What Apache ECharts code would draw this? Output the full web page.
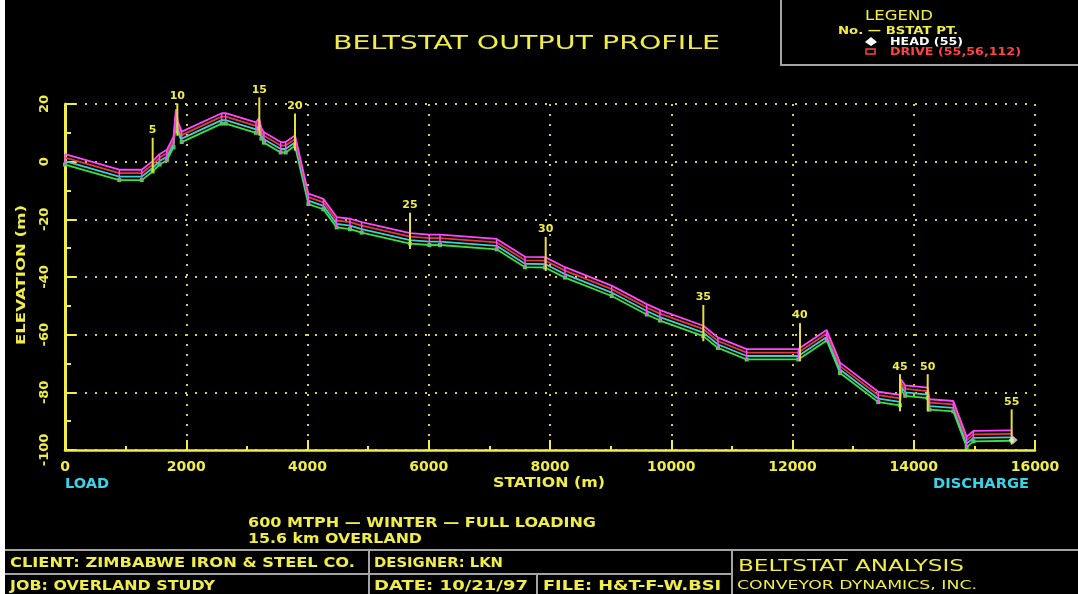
<!DOCTYPE html>
<html>
<head>
<meta charset="utf-8">
<title>Beltstat output profile</title>
<script src="https://cdn.jsdelivr.net/npm/echarts@6/dist/echarts.min.js"></script>
<style>
html, body { margin: 0; padding: 0; background: #000; }
#chart { width: 1078px; height: 594px; }
</style>
</head>
<body>
<div id="chart"></div>
<script>
// station (m) / elevation (m) of the lowest (green) belt line
const stations = [0, 896, 1265, 1446, 1560, 1680, 1790, 1830, 1860, 1925, 2584, 2650, 3150, 3200, 3240, 3282, 3558, 3640, 3794,
  4014, 4261, 4481, 4701, 4894, 5691, 6010, 6186, 7120, 7588, 7918, 8247, 9017, 9595, 9814, 10529, 10771, 11244, 12096,
  12564, 12784, 13415, 13773, 13790, 13860, 14230, 14260, 14653, 14873, 14983, 15615];
const elevations = [-1.0, -6.4, -6.4, -3.4, -1.0, 0.5, 5.0, 14.5, 10.5, 6.8, 13.2, 13.2, 10.0, 11.5, 8.0, 6.6, 3.2, 3.2, 5.5,
  -14.7, -16.5, -22.8, -23.4, -24.6, -28.4, -28.9, -28.9, -30.4, -36.6, -36.7, -40.2, -46.6, -53.0, -55.1, -60.5, -64.6, -68.6, -68.6,
  -62.0, -73.3, -83.4, -84.5, -79.2, -81.2, -82.0, -86.0, -86.6, -99.0, -97.0, -96.8];

// the four belt lines sit this far (m) above the green one
const lineNames = ['green', 'cyan', 'red', 'magenta'];
const lineColors = ['#3ce23c', '#3ccfd6', '#e83a3a', '#ff48ff'];
const lineOffsets = [0, 1.2, 2.4, 3.6];

// BSTAT points: label, station, top and bottom of the marker line
const statLabels = ['5', '10', '15', '20', '25', '30', '35', '40', '45', '50', '55'];
const statStations = [1446, 1853, 3205, 3794, 5691, 7929, 10529, 12124, 13773, 14230, 15615];
const statTops = [8.3, 20.2, 22.3, 16.7, -17.7, -26.1, -49.7, -56.0, -73.7, -73.7, -85.9];
const statBottoms = [-3.8, 9.0, 9.0, 3.8, -30.3, -37.9, -62.3, -69.2, -86.6, -86.6, -98.1];

const headPoint = [15640, -96.5];

const xMin = 0, xMax = 16000, xStep = 2000;
const yMin = -100, yMax = 20, yStep = 20;

const YEL = '#f0ec48';
const GRAY = '#a4a4a4';
const CYAN = '#38d4ea';

let chart = echarts.init(document.getElementById('chart'));

// text stretched to the width it has on the drawing
const measureCtx = document.createElement('canvas').getContext('2d');
function txt(text, x, y, w, size, color, weight, rot, align) {
  const font = (weight || 'bold') + ' ' + size + 'px "DejaVu Sans"';
  measureCtx.font = font;
  const sx = w / measureCtx.measureText(text).width;
  return {
    type: 'text', x: x, y: y, scaleX: sx, rotation: rot || 0, z: 20, silent: true,
    style: { text: text, fill: color, font: font, align: align || 'left', verticalAlign: 'middle' }
  };
}
function seg(x1, y1, x2, y2, color, w) {
  return { type: 'line', z: 15, silent: true, shape: { x1: x1, y1: y1, x2: x2, y2: y2 }, style: { stroke: color || GRAY, lineWidth: w || 2 } };
}

let beltSeries = lineNames.map((name, k) => ({
  name: name,
  type: 'line',
  data: stations.map((s, i) => [s, elevations[i] + lineOffsets[k]]),
  // the green line carries small blobs at the break points
  showSymbol: k === 0,
  symbol: k === 0 ? 'rect' : 'none',
  symbolSize: [4, 4],
  itemStyle: { color: lineColors[k] },
  animation: false,
  lineStyle: { color: lineColors[k], width: 1.8 },
  z: 3 + k
}));

let option = {
  backgroundColor: '#000',
  animation: false,
  grid: { left: 65, right: 43, top: 104, bottom: 144 },
  xAxis: {
    type: 'value', min: xMin, max: xMax, interval: xStep,
    axisLine: { onZero: false, lineStyle: { color: YEL, width: 2.5 } },
    axisTick: { inside: true, length: 10, lineStyle: { color: YEL, width: 2 } },
    minorTick: { show: true, splitNumber: 2, length: 4, lineStyle: { color: YEL, width: 2 } },
    axisLabel: { color: YEL, fontFamily: 'DejaVu Sans', fontWeight: 'bold', fontSize: 14, margin: 10, formatter: v => String(v) },
    splitLine: { show: true, lineStyle: { color: '#d6d040', type: [2, 8], width: 2 } }
  },
  yAxis: {
    type: 'value', min: yMin, max: yMax, interval: yStep,
    axisLine: { onZero: false, lineStyle: { color: YEL, width: 3 } },
    axisTick: { inside: true, length: 11, lineStyle: { color: YEL, width: 2 } },
    minorTick: { show: true, splitNumber: 2, length: 6, lineStyle: { color: YEL, width: 2 } },
    axisLabel: { color: YEL, fontFamily: 'DejaVu Sans', fontWeight: 'bold', fontSize: 13, rotate: 90, margin: 14 },
    splitLine: { show: true, lineStyle: { color: '#d6d040', type: [2, 8], width: 2 } }
  },
  series: beltSeries.concat([
    {
      // short magenta marks at each profile break
      type: 'custom',
      data: stations.map((s, i) => [s, elevations[i]]),
      z: 8,
      renderItem: function (params, api) {
        const p0 = api.coord([api.value(0), api.value(1) - 0.3]);
        const p1 = api.coord([api.value(0), api.value(1) + lineOffsets[3]]);
        return { type: 'line', shape: { x1: p0[0], y1: p0[1], x2: p1[0], y2: p1[1] }, style: { stroke: '#ff48ff', lineWidth: 1.5 } };
      }
    },
    {
      type: 'custom',
      data: statStations.map((s, i) => [s, statTops[i], statBottoms[i], statLabels[i]]),
      z: 9,
      renderItem: function (params, api) {
        const top = api.coord([api.value(0), api.value(1)]);
        const bot = api.coord([api.value(0), api.value(2)]);
        return {
          type: 'group',
          children: [
            { type: 'line', shape: { x1: top[0], y1: top[1], x2: bot[0], y2: bot[1] }, style: { stroke: '#e6dc3c', lineWidth: 2 } },
            { type: 'text', x: top[0], y: top[1] - 2, style: { text: statLabels[params.dataIndex], fill: YEL, font: 'bold 11px "DejaVu Sans"', align: 'center', verticalAlign: 'bottom' } }
          ]
        };
      }
    },
    {
      type: 'scatter',
      data: [headPoint],
      symbol: 'diamond',
      symbolSize: [9, 8],
      itemStyle: { color: '#e8e8e8' },
      z: 10
    }
  ]),
  graphic: [
    { type: 'rect', shape: { x: 0, y: 0, width: 5, height: 594 }, style: { fill: '#fff' }, z: 30 },
    { type: 'rect', shape: { x: 781, y: -3, width: 300, height: 68 }, style: { fill: 'transparent', stroke: GRAY, lineWidth: 2 }, z: 15 },
    seg(5, 550, 1078, 550),
    seg(5, 574, 732, 574),
    seg(369, 550, 369, 594),
    seg(537, 574, 537, 594),
    seg(732, 550, 732, 594),
    txt('BELTSTAT OUTPUT PROFILE', 333, 44, 387, 20, YEL, 'normal'),
    txt('LEGEND', 865, 16, 68, 14, YEL, 'normal'),
    txt('No. \u2014 BSTAT PT.', 838, 31, 120, 10, YEL),
    { type: 'polygon', z: 20, shape: { points: [[871, 37], [877, 42], [871, 46], [865, 42]] }, style: { fill: '#fff' } },
    { type: 'rect', z: 20, shape: { x: 866, y: 49, width: 9, height: 5 }, style: { fill: 'transparent', stroke: '#ff4040', lineWidth: 1.5 } },
    txt('HEAD (55)', 890, 42, 73, 11, '#fff'),
    txt('DRIVE (55,56,112)', 890, 52, 131, 11, '#ff4444'),
    txt('ELEVATION (m)', 22, 275, 140, 13, YEL, 'bold', Math.PI / 2, 'center'),
    txt('STATION (m)', 493, 483, 112, 14, YEL),
    txt('LOAD', 65, 484, 44, 14, CYAN),
    txt('DISCHARGE', 933, 484, 96, 14, CYAN),
    txt('600 MTPH \u2014 WINTER \u2014 FULL LOADING', 248, 523, 348, 14, YEL),
    txt('15.6 km OVERLAND', 248, 539, 174, 14, YEL),
    txt('CLIENT: ZIMBABWE IRON & STEEL CO.', 10, 563, 345, 14, YEL),
    txt('DESIGNER: LKN', 374, 563, 129, 14, YEL),
    txt('JOB: OVERLAND STUDY', 10, 586, 205, 14, YEL),
    txt('DATE: 10/21/97', 374, 586, 154, 14, YEL),
    txt('FILE: H&T-F-W.BSI', 543, 586, 178, 14, YEL),
    txt('BELTSTAT ANALYSIS', 738, 567, 226, 16, YEL, 'normal'),
    txt('CONVEYOR DYNAMICS, INC.', 737, 586, 240, 13, YEL, 'normal')
  ]
};

chart.setOption(option);
</script>
</body>
</html>
